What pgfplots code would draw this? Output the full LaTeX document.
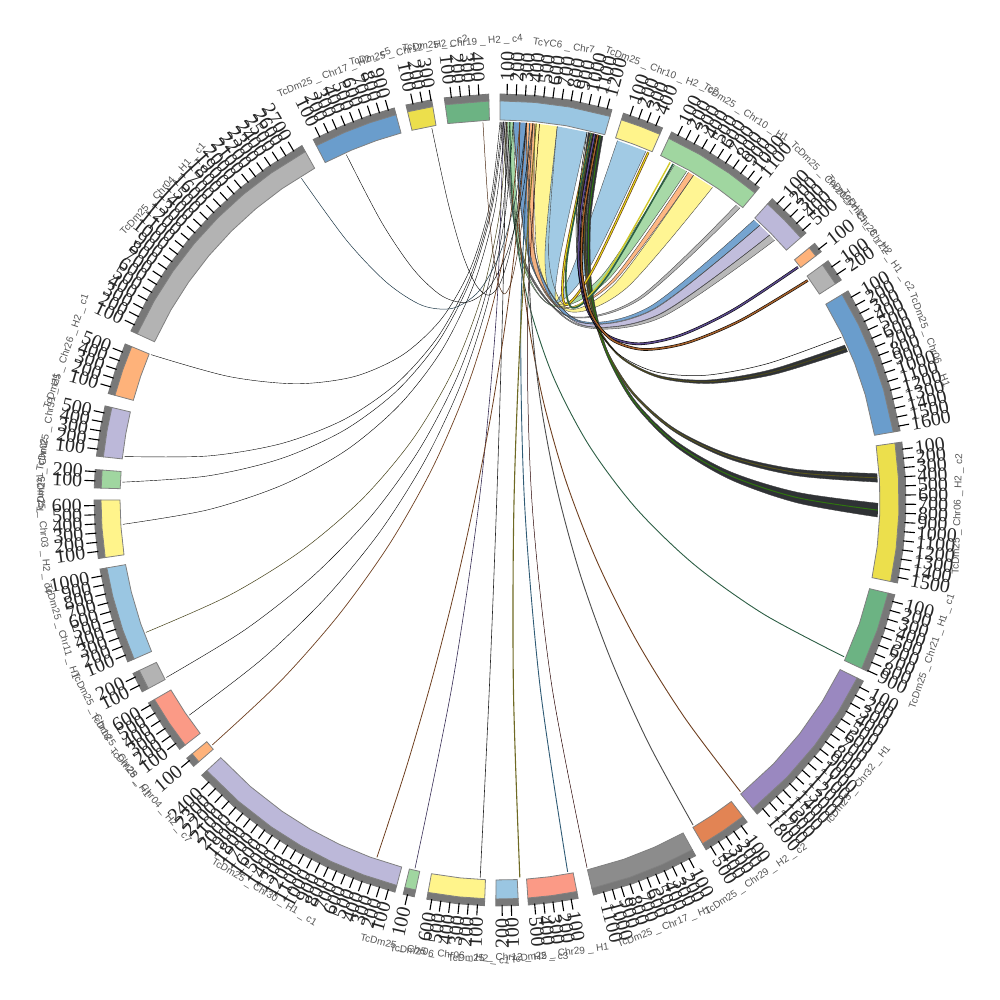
\documentclass[border=0pt]{standalone}
\usepackage{fontspec}
\setmainfont{Liberation Serif}
\newfontfamily\labfont{Liberation Sans}
\usepackage{pgfplots}
\pgfplotsset{compat=1.18}
\usepgfplotslibrary{fillbetween}

\definecolor{cBlue}{HTML}{9AC6E2}
\definecolor{cPale}{HTML}{FFF48B}
\definecolor{cMint}{HTML}{A0D6A0}
\definecolor{cLila}{HTML}{BCB8D9}
\definecolor{cPeach}{HTML}{FEB27A}
\definecolor{cGrey}{HTML}{B3B3B3}
\definecolor{cSteel}{HTML}{6A9DCC}
\definecolor{cGold}{HTML}{ECDF4C}
\definecolor{cSea}{HTML}{6CB383}
\definecolor{cViolet}{HTML}{9A88C0}
\definecolor{cRust}{HTML}{E28454}
\definecolor{cDim}{HTML}{8C8C8C}
\definecolor{cSalmon}{HTML}{FB9A86}
\definecolor{band}{HTML}{787878}
\definecolor{edge}{HTML}{808080}
\definecolor{labgrey}{HTML}{555555}
\definecolor{dk}{HTML}{1F2226}
\definecolor{lnViolet}{HTML}{5B4A8C}
\definecolor{lnRust}{HTML}{A3602C}
\definecolor{lnBrown}{HTML}{6E3F20}
\definecolor{lnGreen}{HTML}{2C5E44}
\definecolor{lnTeal}{HTML}{2F5B75}
\definecolor{lnOlive}{HTML}{6F6A24}

\tikzset{
  ticklab/.style={font=\fontsize{20}{20}\selectfont, inner sep=0pt, text=black!85},
  seclab/.style={font=\labfont\fontsize{10}{11}\selectfont, inner sep=0pt, text=labgrey, anchor=center},
}

% ring piece from a list of angles, polar data
\newcommand{\arcband}[5]{%
  \gdef\outerpts{}\gdef\innerpts{}%
  \foreach \a in {#5} {\xdef\outerpts{\outerpts (\a,#4)}\xdef\innerpts{(\a,#3) \innerpts}}%
  \edef\tmp{\noexpand\addplot[data cs=polar, fill=#1, draw=#2, line width=0.8pt] coordinates {\outerpts \innerpts} -- cycle;}\tmp
}
% colour, angles, first angle, number of ticks, label angle, label
\newcommand{\sect}[6]{%
  \arcband{band}{band}{399}{406}{#2}%
  \arcband{#1}{edge}{380}{399}{#2}%
  \foreach \k in {1,...,#4} {%
    \pgfmathsetmacro\a{#3-1-1.3*(\k-1)}%
    \pgfmathtruncatemacro\val{\k*100}%
    \pgfmathtruncatemacro\flip{(\a>-87 && \a<=90) ? 0 : 1}%
    \pgfmathsetmacro\xx{418*cos(\a)}%
    \pgfmathsetmacro\yy{418*sin(\a)}%
    \ifnum\flip=0 \pgfmathsetmacro\rot{\a}\def\anc{west}\else \pgfmathsetmacro\rot{\a+180}\def\anc{east}\fi
    \edef\tmp{\noexpand\addplot[data cs=polar, black, line width=1.1pt] coordinates {(\a,405) (\a,416)};
      \noexpand\node[ticklab, rotate=\rot, anchor=\anc] at (axis cs:\xx,\yy) {\val};}\tmp
  }%
  \pgfmathsetmacro\xx{458*cos(#5)}%
  \pgfmathsetmacro\yy{458*sin(#5)}%
  \pgfmathsetmacro\rot{(#5>0) ? #5-90 : #5+90}%
  \edef\tmp{\noexpand\node[seclab, rotate=\rot] at (axis cs:\xx,\yy) {\unexpanded{#6}};}\tmp
}
% id, colour, two edges that run from the top sector to the other end
\newcommand{\ribbon}[4]{%
  \addplot[smooth, black!75, line width=0.35pt, name path=r#1a] coordinates {#3};
  \addplot[smooth, black!75, line width=0.35pt, name path=r#1b] coordinates {#4};
  \addplot[#2, fill opacity=0.93] fill between[of=r#1a and r#1b, reverse=true];
}
\newcommand{\chord}[3]{\addplot[smooth, #1, line width=#2] coordinates {#3};}

\begin{document}
\begin{tikzpicture}
\begin{axis}[
  at={(0,0)}, anchor=south west,
  width=1000pt, height=1000pt, scale only axis,
  xmin=-500, xmax=500, ymin=-500, ymax=500,
  hide axis, clip=false,
]
% ribbons from the top sector
\ribbon{e}{cGrey}{(3.3,378)(21.4,243.2)(66.75,184)(139.6,200.2)(239.9,292.1)}{(6.6,377.9)(23,243.3)(66.7,184.7)(137.8,201.8)(236.3,295)}
\ribbon{h}{cGrey}{(0,378)(22.4,240.9)(75.55,175.5)(159.7,181.8)(274.6,259.7)}{(3.3,378)(24,241.3)(75.1,176.8)(157.1,184.7)(269.6,264.9)}
\ribbon{g}{cLila}{(13.2,377.8)(29.6,241.1)(77.75,176.65)(157.8,184.6)(269.6,264.9)}{(26,377.1)(36.1,241.3)(78.45,178.95)(153,190.1)(259.7,274.6)}
\ribbon{f}{cSteel}{(13.2,377.8)(28.7,241.8)(75,179.2)(152,190.2)(259.7,274.6)}{(26,377.1)(35.6,241.7)(76.8,180.4)(149.5,193.2)(253.9,280)}
\ribbon{d}{cMint}{(7.3,377.9)(19.2,245.8)(53.05,193.6)(108.9,221.2)(186.7,328.7)}{(13.2,377.8)(21.7,246.2)(51.45,195.15)(102.4,224.9)(174.5,335.3)}
\ribbon{c}{cPeach}{(26,377.1)(30.6,244.9)(60.2,192.2)(114.3,218.7)(193.5,324.7)}{(34.9,376.4)(35.3,244.7)(61.05,192.7)(112.1,220.3)(188.4,327.7)}
\ribbon{b}{cPale}{(34.9,376.4)(37.3,243.5)(67.7,188.8)(126.1,211.6)(212.5,312.6)}{(57.2,373.6)(48.7,242.8)(68.6,191.05)(116.8,218.3)(193.5,324.7)}
\ribbon{a}{cBlue}{(57.2,373.6)(44.9,244.6)(55.5,197.4)(89.3,232.1)(145.9,348.7)}{(87,367.8)(59.8,242)(55.9,198.6)(75,237.7)(117.4,359.3)}
% dark bundles
\ribbon{j}{dk}{(88.2,367.6)(77.8,289.6)(79.7,226.15)(93.9,177)(120.2,142.4)(158.75,122.2)(209.5,116.45)(272.5,125.1)(347.7,148.3)}{(93.4,366.3)(81.8,288.7)(82.45,225.75)(95.55,177.5)(120.8,143.7)(158.35,124.6)(208.2,120)(270.4,130.2)(344.8,154.9)}
\ribbon{k}{dk}{(93.4,366.3)(83.3,285.5)(86.3,215.4)(102.3,156)(131.3,107.15)(173.3,68.85)(228.4,41.2)(296.5,24.2)(377.6,17.8)}{(97.8,365.1)(86.7,284.8)(88.8,215.35)(103.9,156.7)(132.3,109)(173.75,72)(228.4,45.95)(296.1,30.8)(377.1,26.4)}
\ribbon{l}{dk}{(97.8,365.1)(87,283.8)(89.1,212.1)(104.5,149.95)(132.9,97.4)(174.4,54.35)(229,21)(296.8,-2.85)(377.6,-17.1)}{(102.9,363.7)(90.9,282.9)(92,212.2)(106.5,151.4)(134.25,100.5)(175.2,59.6)(229.5,28.6)(297.2,7.7)(378,-3.3)}
\chord{lnOlive!70!black}{0.8pt}{(90.8,367)(79.8,289.15)(81.1,226)(94.7,177.25)(120.5,143)(158.55,123.4)(208.85,118.2)(271.45,127.65)(346.25,151.6)}
\chord{lnOlive!80!black}{0.9pt}{(95.6,365.7)(85,285.15)(87.55,215.4)(103.1,156.35)(131.8,108.1)(173.5,70.4)(228.4,43.6)(296.3,27.5)(377.4,22.1)}
\chord{lnOlive!60!green!70!black}{1pt}{(100.35,364.4)(88.95,283.35)(90.55,212.15)(105.5,150.7)(133.6,98.95)(174.8,57)(229.25,24.8)(297,2.4)(377.8,-10.2)}
% short chords on the right side
\chord{lnBrown}{2.4pt}{(91.4,366.8)(64.9,240.5)(65.5,195.2)(93.3,231)(148.3,347.7)}
\chord{yellow!90!black}{1pt}{(91.4,366.8)(64.9,240.5)(65.5,195.2)(93.3,231)(148.3,347.7)}
\chord{yellow!80!black}{1.4pt}{(91.4,366.8)(66.6,239.7)(71.45,192.5)(106,225.1)(170.1,337.6)}
\chord{lnGreen}{1.6pt}{(91.4,366.8)(66.8,239.6)(72.2,192.1)(107.6,224.2)(173.1,336)}
\chord{black}{2.6pt}{(94.6,366)(81.25,290.2)(79,231.4)(87.85,189.4)(107.75,164.35)(138.7,156.1)(180.7,164.8)(233.8,190.3)(297.9,232.7)}
\chord{lnViolet}{1.5pt}{(94.6,366)(81.25,290.2)(79,231.4)(87.85,189.4)(107.75,164.35)(138.7,156.1)(180.7,164.8)(233.8,190.3)(297.9,232.7)}
\chord{black}{2.6pt}{(97.8,365.1)(84.1,289.2)(81.7,229.9)(90.9,187)(111.35,160.6)(143.3,150.5)(186.7,157.1)(241.5,180)(307.7,219.5)}
\chord{lnRust}{1.5pt}{(97.8,365.1)(84.1,289.2)(81.7,229.9)(90.9,187)(111.35,160.6)(143.3,150.5)(186.7,157.1)(241.5,180)(307.7,219.5)}
\chord{black}{0.5pt}{(87,367.8)(76.7,290.05)(78.45,227.3)(92.3,179.35)(118.05,146.25)(155.8,128)(205.55,124.7)(267.4,136.3)(341.2,162.7)}
% thin chords
\chord{lnGreen}{0.9pt}{(9.9,377.9)(12.95,286.9)(27.1,202.8)(52.2,125.6)(88.5,55.3)(135.8,-8.1)(194.1,-64.6)(263.5,-114.1)(344,-156.8)}
\chord{lnBrown}{0.9pt}{(19.8,377.5)(18.9,284.5)(26.1,194.1)(41.5,106.5)(65.05,21.5)(96.7,-60.8)(136.4,-140.5)(184.4,-217.4)(240.4,-291.7)}
\chord{black!70}{0.9pt}{(32.9,376.6)(28.2,283.2)(30.6,191.5)(40,101.4)(56.45,12.9)(80,-74)(110.7,-159.3)(148.3,-242.9)(193,-325)}
\chord{black!85!red}{0.5pt}{(39.5,375.9)(27.6,188.4)(31.65,2.05)(51.4,-183.4)(87,-367.8)}
\chord{lnTeal}{0.9pt}{(29.7,376.8)(20.9,188.8)(24.3,1.2)(39.9,-185.6)(67.6,-371.9)}
\chord{lnOlive}{1.1pt}{(36.2,376.3)(21.6,188.1)(14,-0.3)(13.4,-188.8)(19.8,-377.5)}
\chord{black!85}{0.6pt}{(6.6,377.9)(2.5,189)(-3.3,0.1)(-10.7,-188.7)(-19.8,-377.5)}
\chord{lnViolet!60!black}{0.6pt}{(3.3,378)(-3.4,189.6)(-20.45,2.4)(-47.6,-183.6)(-85,-368.3)}
\chord{lnBrown}{0.8pt}{(26.4,377.1)(18.3,283.1)(7.2,189.8)(-7,97.05)(-24.2,4.95)(-44.4,-86.6)(-67.55,-177.4)(-93.8,-267.7)(-123.1,-357.4)}
\chord{lnBrown}{0.7pt}{(19.8,377.5)(10.7,285.2)(-6.9,197)(-32.8,113)(-67,33.15)(-109.6,-42.6)(-160.7,-114.2)(-220,-181.7)(-287.8,-245)}
\chord{black}{0.4pt}{(13.2,377.8)(5.25,285.9)(-12,199)(-38.5,117.3)(-74.4,40.65)(-119.5,-31)(-174,-97.4)(-237.7,-158.9)(-310.8,-215.2)}
\chord{black}{0.4pt}{(9.9,377.9)(2.4,286.5)(-15.3,201.5)(-43,122.6)(-80.9,50.1)(-128.9,-16.2)(-187.1,-76.2)(-255.3,-130)(-333.7,-177.5)}
\chord{lnOlive!60!black}{0.5pt}{(6.6,377.9)(-0.45,287.2)(-18.4,204.3)(-47.2,129)(-86.85,61.4)(-137.4,1.4)(-198.8,-50.9)(-271,-95.5)(-354.1,-132.4)}
\chord{black}{0.4pt}{(5.3,378)(-5,292)(-26,216.3)(-57.7,150.6)(-100.25,95.3)(-153.4,50)(-217.3,15.1)(-291.9,-9.8)(-377.2,-24.4)}
\chord{black}{0.4pt}{(3.3,378)(-7.6,294.1)(-28.9,221.3)(-60.8,159.6)(-103.2,109.1)(-156,69.6)(-219.4,41.2)(-293.3,23.9)(-377.6,17.8)}
\chord{black}{0.4pt}{(2,378)(-8.7,295)(-29.9,223.7)(-61.35,164.2)(-103.35,116.55)(-155.75,80.55)(-218.6,56.4)(-291.8,44)(-375.5,43.4)}
\chord{black}{0.4pt}{(0,378)(-9.7,298)(-29.1,232.6)(-58.2,181.6)(-96.95,145.35)(-145.4,123.5)(-203.6,116.2)(-271.45,123.5)(-349,145.3)}
\chord{lnTeal!60!black}{0.5pt}{(26.4,377.1)(15.3,301.1)(-0.65,245)(-21.5,208.4)(-47.25,191.7)(-77.8,194.5)(-113.2,217.3)(-153.4,259.5)(-198.6,321.6)}
\chord{black}{0.4pt}{(32.9,376.6)(21.5,301.2)(6.7,246.3)(-11.5,211.8)(-33.1,197.7)(-58.1,204)(-86.6,230.6)(-118.5,277.8)(-153.7,345.3)}
\chord{black}{0.4pt}{(26.4,377.1)(18.7,302.1)(9.85,248.4)(-0.2,216)(-11.45,204.7)(-23.8,214.6)(-37.5,245.8)(-52.2,298.1)(-68.2,371.8)}
\chord{lnBrown!70!black}{0.5pt}{(32.9,376.6)(25.1,301.9)(17.7,248.5)(10.8,216.6)(4.25,206)(-1.7,216.9)(-7.2,249)(-12.4,302.6)(-17.1,377.6)}
% sectors, clockwise from the top
\sect{cBlue}{90,85,80,74}{90}{12}{82}{TcYC6 \_ Chr7}
\sect{cPale}{72.3,69.3,66.4}{72.3}{4}{69.3}{TcDm25 \_ Chr10 \_ H2 \_ c2}
\sect{cMint}{65,60,55,50.3}{65}{11}{57.6}{TcDm25 \_ Chr10 \_ H1}
\sect{cLila}{47.9,44.5,41.1}{47.9}{5}{44.5}{TcDm25 \_ Chr20 \_ H1}
\sect{cPeach}{39.2,37.7}{39.2}{1}{38.4}{TcDm25 \_ Chr28 \_ H2}
\sect{cGrey}{36.1,32.8}{36.1}{2}{34.4}{TcDm25 \_ Chr22 \_ H1 \_ c2}
\sect{cSteel}{31,26,21,16,9.8}{31}{16}{20.4}{TcDm25 \_ Chr06 \_ H1}
\sect{cGold}{8.2,3,-2,-7,-11.8}{8.2}{15}{-1.8}{TcDm25 \_ Chr06 \_ H2 \_ c2}
\sect{cSea}{-13.5,-19,-25}{-13.5}{9}{-19.3}{TcDm25 \_ Chr21 \_ H1 \_ c1}
\sect{cViolet}{-26.5,-32,-38,-44,-50.7}{-26.5}{18}{-38.6}{TcDm25 \_ Chr32 \_ H1}
\sect{cRust}{-52.5,-56,-59.5}{-52.5}{5}{-56}{TcDm25 \_ Chr29 \_ H2 \_ c2}
\sect{cDim}{-61.2,-66,-71,-76.7}{-61.2}{11}{-69}{TcDm25 \_ Chr17 \_ H1}
\sect{cSalmon}{-78.9,-82.5,-86}{-78.9}{5}{-82.5}{TcDm25 \_ Chr29 \_ H1}
\sect{cBlue}{-87.4,-90.6}{-87.4}{2}{-89}{TcDm25 \_ Chr12 \_ H2 \_ c3}
\sect{cPale}{-92.2,-96,-100.4}{-92.2}{6}{-96.3}{TcDm25 \_ Chr06 \_ H2 \_ c1}
\sect{cMint}{-102.2,-103.8}{-102.2}{1}{-103}{TcDm25 \_ Chr06}
\sect{cLila}{-105,-110,-115,-120,-125,-131,-137.3}{-105}{24}{-121}{TcDm25 \_ Chr30 \_ H1 \_ c1}
\sect{cPeach}{-139,-140.5}{-139}{1}{-139.8}{TcDm25 \_ Chr04 \_ H2 \_ c7}
\sect{cSalmon}{-142.1,-146,-150}{-142.1}{6}{-146}{TcDm25 \_ Chr28 \_ H1}
\sect{cGrey}{-151.8,-154.7}{-151.8}{2}{-153.2}{TcDm25 \_ Chr18}
\sect{cBlue}{-156.5,-161,-166,-170.2}{-156.5}{10}{-163.3}{TcDm25 \_ Chr11 \_ H1}
\sect{cPale}{-171.7,-176,-180}{-171.7}{6}{-175.8}{TcDm25 \_ Chr03 \_ H2 \_ c4}
\sect{cMint}{178.3,175.7}{178.3}{2}{177}{TcDm25 \_ Chr02}
\sect{cLila}{173.8,170,166.6}{173.8}{5}{170.2}{TcDm25 \_ Chr31 \_ H1}
\sect{cPeach}{164.8,161,157.4}{164.8}{5}{161.1}{TcDm25 \_ Chr26 \_ H2 \_ c1}
\sect{cGrey}{155.4,150,145,140,135,130,125,119.2}{155.4}{27}{137.3}{TcDm25 \_ Chr04 \_ H1 \_ c1}
\sect{cSteel}{117.4,113,109,105.1}{117.4}{9}{111.2}{TcDm25 \_ Chr17 \_ H2 \_ c5}
\sect{cGold}{103.4,99.7}{103.4}{3}{101.5}{TcDm25 \_ Chr12 \_ H2 \_ c2}
\sect{cSea}{97.9,91.6}{97.9}{4}{94.7}{TcDm25 \_ Chr19 \_ H2 \_ c4}
\end{axis}
\useasboundingbox (0,0) rectangle (1000pt,1000pt);
\end{tikzpicture}
\end{document}
